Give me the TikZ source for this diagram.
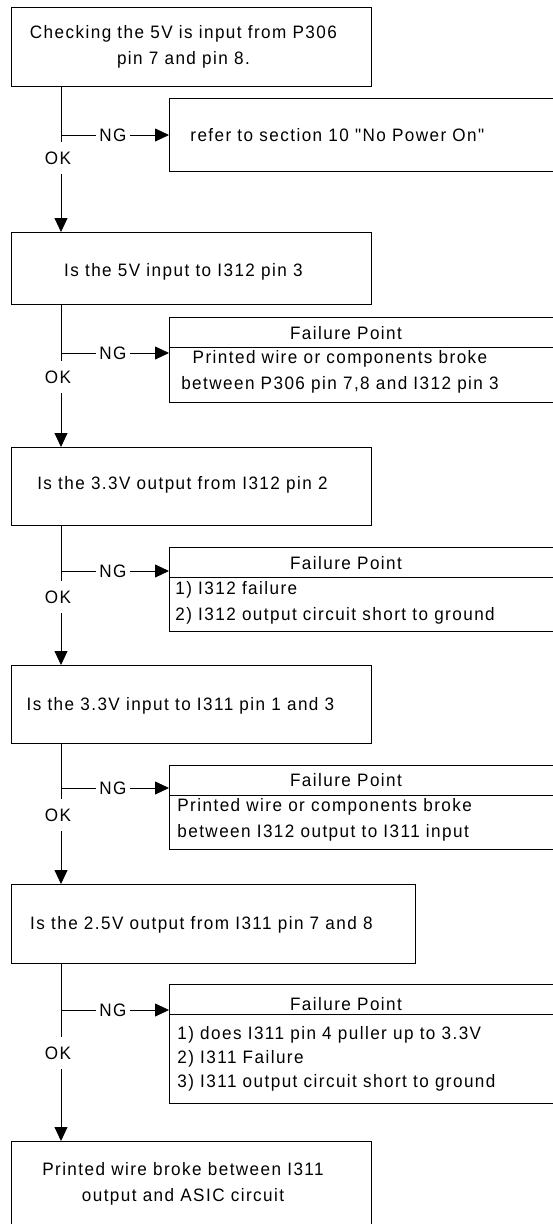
\documentclass[tikz,border=0pt]{standalone}
\usepackage{fontspec}
\setmainfont[FakeStretch=0.95,LetterSpace=8,Ligatures=TeXOff]{Liberation Sans}
\usetikzlibrary{arrows.meta,calc}

\begin{document}
\begin{tikzpicture}[x=1pt, y=-1pt, line width=0.8pt,
  box/.style={draw, rectangle, anchor=north west, inner sep=0pt},
  txt/.style={inner sep=0pt, font=\fontsize{18}{26}\selectfont},
  flow/.style={-{Triangle[length=14pt,width=13pt]}},
  ngtag/.style={inner xsep=3pt, inner ysep=0pt, font=\fontsize{18}{26}\selectfont},
  oktag/.style={inner sep=0pt, minimum height=32pt, font=\fontsize{18}{26}\selectfont}]
\clip (0,0) rectangle (553,1224);
\coordinate (sp) at (61,0);

% Check steps
\node[box, minimum width=360pt, minimum height=79pt] (chk5v) at (11,7) {};
\node[txt, align=center] (chk5vt) at ($(chk5v.center)+(-8,0)$) {Checking the 5V is input from P306\\pin 7 and pin 8.};

\node[box, minimum width=360pt, minimum height=72pt] (in5v) at (11,232) {};
\node[txt] (in5vt) at ($(in5v.center)+(-8,3)$) {Is the 5V input to I312 pin 3};

\node[box, minimum width=360pt, minimum height=78pt] (out33) at (11,447) {};
\node[txt] (out33t) at ($(out33.center)+(-9,-2)$) {Is the 3.3V output from I312 pin 2};

\node[box, minimum width=360pt, minimum height=78pt] (in33) at (11,665) {};
\node[txt] (in33t) at ($(in33.center)+(-11,1)$) {Is the 3.3V input to I311 pin 1 and 3};

\node[box, minimum width=404pt, minimum height=79pt] (out25) at (11,884) {};
\node[txt] (out25t) at ($(out25.center)+(-12,1)$) {Is the 2.5V output from I311 pin 7 and 8};

\node[box, minimum width=360pt, minimum height=100pt] (asic) at (11,1141) {};
\node[txt, align=center] (asict) at (183,1183.5) {Printed wire broke between I311\\output and ASIC circuit};

% Failure side boxes
\node[box, minimum width=400pt, minimum height=73pt] (refer) at (169,98) {};
\node[txt, anchor=west] (refert) at (190,135) {refer to section 10 "No Power On"};

\node[box, minimum width=400pt, minimum height=85pt] (fp312in) at (169,317) {};
\draw ($(fp312in.north west)+(0,30)$) -- ($(fp312in.north east)+(0,30)$);
\node[txt] (fp312inh) at ($(fp312in.north west)+(177,16)$) {Failure Point};
\node[txt, align=center] (fp312inb) at (340,371.5) {Printed wire or components broke\\between P306 pin 7,8 and I312 pin 3};

\node[box, minimum width=400pt, minimum height=84pt] (fp312out) at (169,547) {};
\draw ($(fp312out.north west)+(0,30)$) -- ($(fp312out.north east)+(0,30)$);
\node[txt] (fp312outh) at ($(fp312out.north west)+(177,16)$) {Failure Point};
\node[txt, align=left, anchor=west] (fp312outb) at (175,602.5) {1) I312 failure\\2) I312 output circuit short to ground};

\node[box, minimum width=400pt, minimum height=84pt] (fp311in) at (169,765) {};
\draw ($(fp311in.north west)+(0,30)$) -- ($(fp311in.north east)+(0,30)$);
\node[txt] (fp311inh) at ($(fp311in.north west)+(177,15)$) {Failure Point};
\node[txt, align=left, anchor=west] (fp311inb) at (177,820) {Printed wire or components broke\\between I312 output to I311 input};

\node[box, minimum width=400pt, minimum height=119pt] (fp311out) at (169,984) {};
\draw ($(fp311out.north west)+(0,30)$) -- ($(fp311out.north east)+(0,30)$);
\node[txt] (fp311outh) at ($(fp311out.north west)+(177,20)$) {Failure Point};
\node[txt, align=left, anchor=west, font=\fontsize{18}{24}\selectfont] (fp311outb) at (177,1059) {1) does I311 pin 4 puller up to 3.3V\\2) I311 Failure\\3) I311 output circuit short to ground};

% OK / NG labels
\node[oktag] (ok1) at (58,158) {OK};
\node[oktag] (ok2) at (58,377) {OK};
\node[oktag] (ok3) at (58,597) {OK};
\node[oktag] (ok4) at (58,815) {OK};
\node[oktag] (ok5) at (58,1053) {OK};
\node[ngtag] (ng1) at (113,135) {NG};
\node[ngtag] (ng2) at (113,353) {NG};
\node[ngtag] (ng3) at (113,571) {NG};
\node[ngtag] (ng4) at (113,788) {NG};
\node[ngtag] (ng5) at (113,1010) {NG};

% Main flow
\draw (chk5v.south -| sp) -- (ok1.north -| sp);
\draw[flow] (ok1.south -| sp) -- (in5v.north -| sp);
\draw (in5v.south -| sp) -- (ok2.north -| sp);
\draw[flow] (ok2.south -| sp) -- (out33.north -| sp);
\draw (out33.south -| sp) -- (ok3.north -| sp);
\draw[flow] (ok3.south -| sp) -- (in33.north -| sp);
\draw (in33.south -| sp) -- (ok4.north -| sp);
\draw[flow] (ok4.south -| sp) -- (out25.north -| sp);
\draw (out25.south -| sp) -- (ok5.north -| sp);
\draw[flow] (ok5.south -| sp) -- (asic.north -| sp);

% NG branches
\draw (sp |- ng1) -- (ng1.west);
\draw[flow] (ng1.east) -- (ng1.east -| refer.west);
\draw (sp |- ng2) -- (ng2.west);
\draw[flow] (ng2.east) -- (ng2.east -| fp312in.west);
\draw (sp |- ng3) -- (ng3.west);
\draw[flow] (ng3.east) -- (ng3.east -| fp312out.west);
\draw (sp |- ng4) -- (ng4.west);
\draw[flow] (ng4.east) -- (ng4.east -| fp311in.west);
\draw (sp |- ng5) -- (ng5.west);
\draw[flow] (ng5.east) -- (ng5.east -| fp311out.west);
\end{tikzpicture}
\end{document}
